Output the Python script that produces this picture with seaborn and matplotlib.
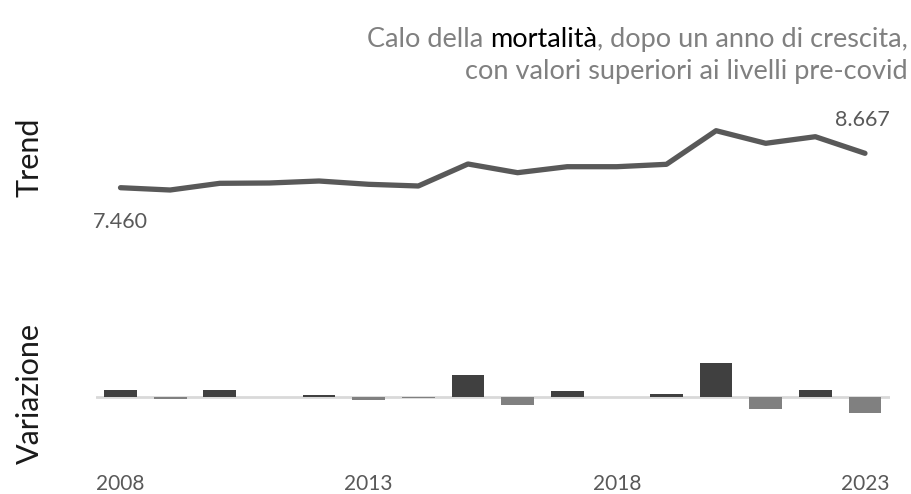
"""
Mortalità: trend annuale e variazione rispetto all'anno precedente (2008-2023).
"""
import matplotlib
matplotlib.use("Agg")
import matplotlib.pyplot as plt
import numpy as np
import pandas as pd
import seaborn as sns

# ── Dati ──────────────────────────────────────────────────────────────────────
ANNI = list(range(2008, 2024))
TREND = [7460, 7379, 7614, 7625, 7695, 7579, 7520, 8292,
         7987, 8197, 8197, 8281, 9461, 9018, 9250, 8667]
VARIAZIONE = [235, -81, 235, 0, 70, -116, -59, 772,
              -305, 210, 0, 84, 1180, -443, 232, -583]
ANNI_TICK = [2008, 2013, 2018, 2023]

TITOLO_1 = ["Calo della ", "mortalità", ", dopo un anno di crescita,"]
TITOLO_2 = "con valori superiori ai livelli pre-covid"

# ── Stile ─────────────────────────────────────────────────────────────────────
GRIGIO_LINEA = "#595959"
GRIGIO_TESTO = "#595959"
GRIGIO_TITOLO = "#808080"
POS_COLOR = "#404040"
NEG_COLOR = "#808080"

sns.set_theme(style="white")
plt.rcParams["font.family"] = ["Lato", "DejaVu Sans"]

W, H = 912, 494
fig = plt.figure(figsize=(W / 100, H / 100), dpi=100)

# assi posizionati in pixel (sx, alto, dx, basso)
def _axes(left, top, right, bottom):
    return fig.add_axes([left / W, 1 - bottom / H, (right - left) / W, (bottom - top) / H])

ax1 = _axes(95.7, 100, 889.8, 230)
ax2 = _axes(95.7, 340, 889.8, 468)

# stessa scala verticale (unità per pixel) in entrambi i pannelli
SCALA = 35.1
ax1.set_ylim(TREND[0] - (230 - 187.7) * SCALA, TREND[0] + (187.7 - 100) * SCALA)
ax2.set_ylim(-(468 - 396.7) * SCALA, (396.7 - 340) * SCALA)

# ── Trend ─────────────────────────────────────────────────────────────────────
sns.lineplot(x=ANNI, y=TREND, color=GRIGIO_LINEA, linewidth=3.8, ax=ax1)

def _fmt(v):
    return f"{v:,}".replace(",", ".")

ax1.annotate(_fmt(TREND[0]), xy=(ANNI[0], TREND[0]), xytext=(0, -24.5),
             textcoords="offset points", ha="center", va="center",
             fontsize=15.5, color=GRIGIO_TESTO)
ax1.annotate(_fmt(TREND[-1]), xy=(ANNI[-1], TREND[-1]), xytext=(-2, 24),
             textcoords="offset points", ha="center", va="center",
             fontsize=15.5, color=GRIGIO_TESTO)

# ── Variazione ────────────────────────────────────────────────────────────────
df = pd.DataFrame({"anno": ANNI, "variazione": VARIAZIONE})
df["segno"] = np.where(df["variazione"] >= 0, "pos", "neg")
ax2.axhline(0, color="#d9d9d9", linewidth=2, zorder=0)
sns.barplot(data=df, x="anno", y="variazione", hue="segno",
            palette={"pos": POS_COLOR, "neg": NEG_COLOR},
            native_scale=True, dodge=False, width=0.66, legend=False,
            linewidth=0, ax=ax2)

for ax in (ax1, ax2):
    ax.set_xlim(2007.5, 2023.5)
    ax.set_xlabel("")
    ax.set_ylabel("")
    ax.set_yticks([])
    sns.despine(ax=ax, left=True, bottom=True)

ax1.set_xticks([])
ax2.set_xticks(ANNI_TICK)
ax2.set_xticklabels([str(a) for a in ANNI_TICK], fontsize=15, color=GRIGIO_TESTO)
ax2.tick_params(axis="x", length=0, pad=4.5)

# ── Etichette pannelli ────────────────────────────────────────────────────────
fig.text(30 / W, 1 - 157 / H, "Trend", rotation=90, ha="center", va="center",
         fontsize=22, color="#1a1a1a")
fig.text(30 / W, 1 - 393 / H, "Variazione", rotation=90, ha="center", va="center",
         fontsize=22, color="#1a1a1a")

# ── Titolo (prima riga a tre colori, allineata a destra) ──────────────────────
fig.canvas.draw()
renderer = fig.canvas.get_renderer()
x_dx = 908 / W
y1 = 1 - 47 / H
for pezzo, colore in zip(reversed(TITOLO_1), [GRIGIO_TITOLO, "black", GRIGIO_TITOLO]):
    t = fig.text(x_dx, y1, pezzo, ha="right", va="baseline", fontsize=19.5, color=colore)
    bb = t.get_window_extent(renderer)
    x_dx = bb.x0 / W
fig.text(908 / W, 1 - 79 / H, TITOLO_2, ha="right", va="baseline", fontsize=19.5,
         color=GRIGIO_TITOLO)

fig.savefig("out.png", dpi=100)
